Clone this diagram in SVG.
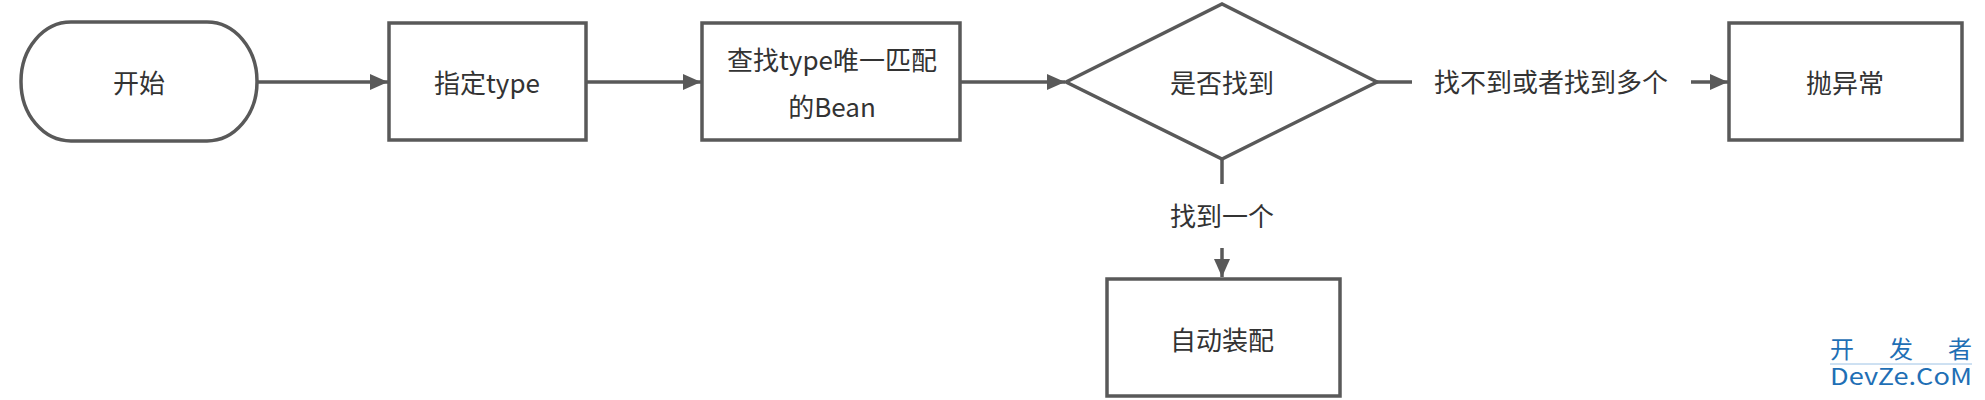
<svg xmlns="http://www.w3.org/2000/svg" width="1985" height="400" viewBox="0 0 1985 400">
  <defs>
    <marker id="arrow" viewBox="0 0 18 16" refX="18" refY="8" markerWidth="18" markerHeight="16" markerUnits="userSpaceOnUse" orient="auto">
      <path d="M0,0 L18,8 L0,16 Z" fill="#595959"/>
    </marker>
    <style>
      .shape { fill: #ffffff; stroke: #595959; stroke-width: 3.5; }
      .edge { fill: none; stroke: #595959; stroke-width: 3.5; }
      .lbl { font-family: "Noto Sans CJK SC", "Noto Sans", sans-serif; font-size: 26px; fill: #333333; text-anchor: middle; }
      .wm { font-family: "Noto Sans CJK SC", "Noto Sans", sans-serif; fill: #1f6fb5; }
    </style>
  </defs>
  <rect width="1985" height="400" fill="#ffffff"/>

  <g id="connectors">
    <line class="edge" x1="258" y1="82" x2="388" y2="82" marker-end="url(#arrow)"/>
    <line class="edge" x1="587" y1="82" x2="701" y2="82" marker-end="url(#arrow)"/>
    <line class="edge" x1="961" y1="82" x2="1065" y2="82" marker-end="url(#arrow)"/>
    <line class="edge" x1="1377" y1="82" x2="1412" y2="82"/>
    <line class="edge" x1="1691" y1="82" x2="1728" y2="82" marker-end="url(#arrow)"/>
    <text class="lbl" x="1551" y="92" font-size="27">找不到或者找到多个</text>
    <line class="edge" x1="1222" y1="160" x2="1222" y2="184"/>
    <line class="edge" x1="1222" y1="248" x2="1222" y2="277" marker-end="url(#arrow)"/>
    <text class="lbl" x="1222" y="226" font-size="27">找到一个</text>
  </g>

  <g id="start">
    <rect class="shape" x="21" y="22" width="236" height="119" rx="50" ry="59"/>
    <text class="lbl" x="139" y="93">开始</text>
  </g>

  <g id="specify-type">
    <rect class="shape" x="389" y="23" width="197" height="117"/>
    <text class="lbl" x="487" y="93">指定type</text>
  </g>

  <g id="find-bean">
    <rect class="shape" x="702" y="23" width="258" height="117"/>
    <text class="lbl" x="832" y="70">查找type唯一匹配</text>
    <text class="lbl" x="832" y="117">的Bean</text>
  </g>

  <g id="found">
    <polygon class="shape" points="1066,82 1222,4 1377,82 1222,159"/>
    <text class="lbl" x="1222" y="93">是否找到</text>
  </g>

  <g id="throw">
    <rect class="shape" x="1729" y="23" width="233" height="117"/>
    <text class="lbl" x="1845" y="93">抛异常</text>
  </g>

  <g id="autowire">
    <rect class="shape" x="1107" y="279" width="233" height="117"/>
    <text class="lbl" x="1222" y="350">自动装配</text>
  </g>

  <g id="watermark">
    <text class="wm" x="1830" y="358" font-size="24" textLength="142" lengthAdjust="spacing">开 发 者</text>
    <line x1="1830" y1="364" x2="1972" y2="364" stroke="#9cc2e5" stroke-width="1"/>
    <text class="wm" x="1830" y="385" font-size="23" textLength="142" lengthAdjust="spacingAndGlyphs">DevZe.CoM</text>
  </g>
</svg>
